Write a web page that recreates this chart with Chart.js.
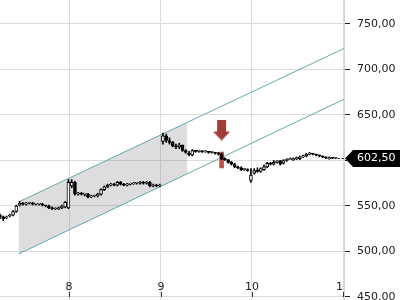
<!DOCTYPE html>
<html>
<head>
<meta charset="utf-8">
<script src="https://cdn.jsdelivr.net/npm/chart.js@4.4.0/dist/chart.umd.min.js"></script>
<style>
  html, body { margin: 0; padding: 0; background: #fff; overflow: hidden; }
</style>
</head>
<body>
<canvas id="chart" width="400" height="300"></canvas>
<script>
// one candle every 1/28 day, first candle at day 7.24
const startDay = 7.24;
const candleStep = 1 / 28;

const opens = [
  540, 538, 537, 539, 540, 544, 551, 553, 552, 553,
  553, 552, 552, 552, 551, 550, 548, 547, 547, 548,
  549, 548, 572, 576, 563, 564, 563, 563, 560, 561,
  561, 563, 568, 571, 573, 574, 573, 576, 574, 573,
  574, 574, 575, 575, 576, 575, 576, 572, 573, 572,
  621, 627, 622, 620, 616, 615, 617, 611, 608, 606,
  611, 610, 610, 609.5, 610, 609, 609, 608, 607, 602,
  601, 598, 596, 593, 592, 590, 590, 578, 586, 589,
  588, 590, 593, 597, 596, 598, 600, 597, 600, 601,
  601, 602, 602, 604, 605, 607, 608, 607, 606, 605,
  604, 602, 603, 602.5
];
const closes = [
  538, 536, 538, 540, 544, 550, 553, 552, 553, 553,
  552, 552.5, 552, 551, 550, 548, 547, 547, 548, 550,
  554, 576, 576, 563, 564, 563, 563, 560, 561, 561,
  563, 568, 571, 573, 574, 573, 576, 574, 573, 574,
  574, 575, 575, 576, 575, 576, 572, 573, 572, 573,
  627, 622, 620, 616, 615, 617, 611, 609, 606, 611,
  610, 610, 609.5, 610, 609, 609.5, 608, 607, 602, 601,
  598, 596, 593, 592, 590, 590, 589, 584, 589, 588,
  591, 593, 597, 596, 598, 599, 596, 600, 601, 602,
  602, 603, 604, 605, 607, 608, 607, 606, 605, 604,
  603, 603, 602.5, 602.5
];
const highs = [
  541, 539, 539, 541, 545, 551, 555, 554, 554, 554,
  554, 553, 553, 553, 551, 551, 549, 548, 549, 551,
  555, 579, 579, 577, 565, 565, 564, 564, 562, 562,
  564, 569, 572, 574, 575, 575, 577, 577, 575, 575,
  575, 576, 576, 577, 577, 577, 577, 574, 574, 574,
  630, 629, 625, 621, 618, 619, 617, 612, 610, 612,
  611, 611, 611, 611, 610, 610, 609, 609, 608, 603,
  601, 599, 597, 594, 593, 591, 591, 591, 591, 592,
  592, 595, 598, 598, 600, 600, 600, 601, 602, 603,
  603, 604, 605, 606, 608, 609, 608, 607, 606, 605,
  604, 604, 603.5, 603
];
const lows = [
  536, 534, 536, 538, 539, 543, 550, 551, 551, 552,
  551, 551, 551, 550, 549, 547, 546, 546, 546, 547,
  548, 547, 570, 562, 562, 562, 561, 559, 559, 560,
  560, 562, 567, 570, 572, 572, 572, 573, 572, 572,
  573, 574, 574, 574, 574, 574, 571, 571, 571, 571,
  618, 620, 618, 615, 613, 613, 610, 608, 605, 605,
  609, 609, 609, 609, 608, 608, 607, 606, 601, 600,
  597, 595, 592, 591, 589, 589, 588, 576, 585, 587,
  587, 589, 592, 595, 595, 597, 595, 596, 599, 601,
  600, 601, 601, 603, 604, 606, 606, 605, 604, 603,
  602, 601.5, 602, 602
];

const dayTicks = [8, 9, 10, 11];
const priceTicks = [450, 500, 550, 600, 650, 700, 750];

// trend channel and the shaded part of it
const channelUpper = [{ x: 7.443, y: 554.4 }, { x: 11.01, y: 723.1 }];
const channelLower = [{ x: 7.443, y: 497.3 }, { x: 11.01, y: 667.3 }];
const shadeUpper = [{ x: 7.443, y: 554.4 }, { x: 9.293, y: 642.3 }];
const shadeLower = [{ x: 7.443, y: 497.3 }, { x: 9.293, y: 585.2 }];

// sell signal on candle 68
const signalIndex = 68;
const arrowPrice = 633.5;
const markerRange = [591.8, 609.3];
const lastPrice = 602.5;

const times = opens.map((_, i) => startDay + i * candleStep);
const bodies = times.map((t, i) => ({ x: t, y: [opens[i], closes[i]] }));
const wicks = times.map((t, i) => ({ x: t, y: [lows[i], highs[i]] }));
const bodyFill = opens.map((o, i) => closes[i] >= o ? '#ffffff' : '#000000');

function fmtPrice(v) {
    return v.toFixed(2).replace('.', ',');
}

// red down arrow used as point style
const arrow = document.createElement('canvas');
arrow.width = 17;
arrow.height = 21;
(function () {
    const c = arrow.getContext('2d');
    c.fillStyle = '#a23d38';
    c.fillRect(4, 0, 9, 13);
    c.beginPath();
    c.moveTo(0, 12);
    c.lineTo(17, 12);
    c.lineTo(8.5, 21);
    c.closePath();
    c.fill();
})();

const overlay = {
    id: 'overlay',
    afterDraw(chart) {
        const { ctx, chartArea } = chart;
        const xs = chart.scales.x;
        const ys = chart.scales.y;

        // day labels sit inside the plot, clipped at the price axis
        ctx.save();
        ctx.beginPath();
        ctx.rect(chartArea.left, chartArea.top, chartArea.right - chartArea.left, chartArea.bottom - chartArea.top);
        ctx.clip();
        ctx.font = '11px "DejaVu Sans"';
        ctx.fillStyle = '#1a1a1a';
        ctx.textAlign = 'center';
        ctx.textBaseline = 'middle';
        ctx.strokeStyle = '#333';
        ctx.lineWidth = 1;
        dayTicks.forEach((d) => {
            const px = Math.round(xs.getPixelForValue(d));
            ctx.fillText(String(d), px, chartArea.bottom - 13);
            ctx.beginPath();
            ctx.moveTo(px + 0.5, chartArea.bottom - 8);
            ctx.lineTo(px + 0.5, chartArea.bottom - 3);
            ctx.stroke();
        });
        ctx.restore();

        // last price line and tag
        const py = Math.round(ys.getPixelForValue(lastPrice)) + 0.5;
        const lastX = xs.getPixelForValue(times[times.length - 1]) + 2;
        ctx.save();
        ctx.strokeStyle = '#000';
        ctx.setLineDash([2, 2]);
        ctx.beginPath();
        ctx.moveTo(lastX, py);
        ctx.lineTo(chartArea.right, py);
        ctx.stroke();
        ctx.setLineDash([]);

        const r = chartArea.right;
        const cy = py;
        ctx.fillStyle = '#000';
        ctx.beginPath();
        ctx.moveTo(r + 1, cy);
        ctx.lineTo(r + 9, cy - 8.5);
        ctx.lineTo(400, cy - 8.5);
        ctx.lineTo(400, cy + 8.5);
        ctx.lineTo(r + 9, cy + 8.5);
        ctx.closePath();
        ctx.fill();
        ctx.font = '11px "DejaVu Sans"';
        ctx.fillStyle = '#fff';
        ctx.textAlign = 'left';
        ctx.textBaseline = 'middle';
        ctx.fillText(fmtPrice(lastPrice), r + 13, cy);
        ctx.restore();
    }
};

new Chart(document.getElementById('chart'), {
    type: 'bar',
    data: {
        datasets: [
            {
                type: 'line',
                data: [{ x: times[signalIndex], y: arrowPrice }],
                showLine: false,
                pointStyle: arrow,
                pointRadius: 5
            },
            {
                data: bodies,
                backgroundColor: bodyFill,
                borderColor: '#000',
                borderWidth: 1,
                borderSkipped: false,
                barThickness: 3,
                minBarLength: 1,
                grouped: false
            },
            {
                data: wicks,
                backgroundColor: '#000',
                borderWidth: 0,
                barThickness: 1,
                grouped: false
            },
            {
                data: [{ x: times[signalIndex], y: markerRange }],
                backgroundColor: 'rgba(178, 52, 46, 0.85)',
                borderWidth: 0,
                barThickness: 4,
                grouped: false
            },
            {
                type: 'line',
                data: channelUpper,
                borderColor: '#67a8ad',
                borderWidth: 1,
                pointRadius: 0,
                fill: false
            },
            {
                type: 'line',
                data: channelLower,
                borderColor: '#67a8ad',
                borderWidth: 1,
                pointRadius: 0,
                fill: false
            },
            {
                type: 'line',
                data: shadeUpper,
                borderWidth: 0,
                pointRadius: 0,
                backgroundColor: 'rgba(130, 130, 130, 0.27)',
                fill: '+1'
            },
            {
                type: 'line',
                data: shadeLower,
                borderWidth: 0,
                pointRadius: 0,
                fill: false
            }
        ]
    },
    options: {
        responsive: false,
        animation: false,
        devicePixelRatio: 1,
        layout: { padding: 0, autoPadding: false },
        plugins: {
            legend: { display: false },
            tooltip: { enabled: false }
        },
        scales: {
            x: {
                type: 'linear',
                min: 7.24,
                max: 11.01,
                offset: false,
                afterBuildTicks: (s) => { s.ticks = dayTicks.map((v) => ({ value: v })); },
                afterFit: (s) => { s.height = 0; },
                grid: { color: '#dcdcdc', drawTicks: false, offset: false },
                border: { display: false },
                ticks: { display: false }
            },
            y: {
                position: 'right',
                min: 446.7,
                max: 776.37,
                afterBuildTicks: (s) => { s.ticks = priceTicks.map((v) => ({ value: v })); },
                afterFit: (s) => { s.width = 56; s.paddingTop = 0; s.paddingBottom = 0; },
                grid: { color: '#dcdcdc', tickColor: '#222', tickLength: 6 },
                border: { color: '#d4d4d4' },
                ticks: {
                    padding: 7,
                    color: '#1a1a1a',
                    font: { family: 'DejaVu Sans', size: 11 },
                    callback: (v) => fmtPrice(v)
                }
            }
        }
    },
    plugins: [overlay]
});
</script>
</body>
</html>
